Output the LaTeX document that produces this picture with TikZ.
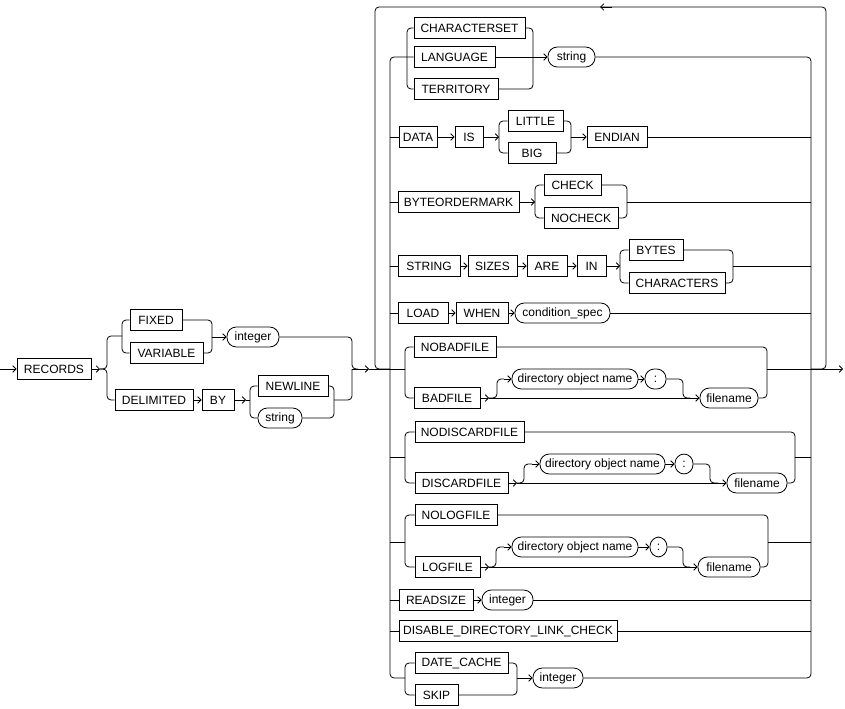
\documentclass[tikz,border=0pt]{standalone}
\usepackage{fontspec}
\setmainfont{Liberation Sans}
\usetikzlibrary{arrows.meta}
\newcommand\bx[5]{\node[kw,minimum width={(#3-#2)*0.75pt}] (#1) at ({(#2+#3)/2},#4) {#5};}
\newcommand\ov[5]{\node[vr,minimum width={(#3-#2)*0.75pt}] (#1) at ({(#2+#3)/2},#4) {#5};}
\begin{document}
\begin{tikzpicture}[x=0.75pt,y=-0.75pt,line width=0.6pt,
  kw/.style={draw,rectangle,inner sep=0pt,minimum height=15.5pt,font=\fontsize{9}{10}\selectfont},
  vr/.style={draw,rectangle,rounded corners=7pt,inner sep=0pt,minimum height=15pt,font=\fontsize{9}{10}\selectfont},
  arr/.style={-{Straight Barb[length=2.5pt,width=5pt]}},
  rc/.style={rounded corners=3pt}]
\useasboundingbox (0,0) rectangle (845,709);
% nodes
\bx{rec}{17}{91}{369}{RECORDS}
\bx{fixed}{130}{182}{320}{FIXED}
\bx{var}{130}{203}{353}{VARIABLE}
\ov{int0}{227}{279}{337}{integer}
\bx{del}{115}{193}{400}{DELIMITED}
\bx{by}{202}{234}{400}{BY}
\bx{nl}{258}{328}{386}{NEWLINE}
\ov{str0}{258}{302}{418}{string}
\bx{chs}{414}{525}{28}{CHARACTERSET}
\bx{lang}{414}{495}{57}{LANGUAGE}
\bx{terr}{414}{498}{89}{TERRITORY}
\ov{str1}{548}{595}{57}{string}
\bx{data}{399}{437}{137}{DATA}
\bx{is}{455}{483}{137}{IS}
\bx{little}{508}{563}{121}{LITTLE}
\bx{big}{508}{556}{153}{BIG}
\bx{endian}{587}{647}{137}{ENDIAN}
\bx{bom}{398}{519}{202}{BYTEORDERMARK}
\bx{check}{544}{601}{185}{CHECK}
\bx{nocheck}{544}{618}{218}{NOCHECK}
\bx{string}{398}{460}{266}{STRING}
\bx{sizes}{468}{517}{266}{SIZES}
\bx{are}{527}{567}{266}{ARE}
\bx{inkw}{577}{606}{266}{IN}
\bx{bytes}{629}{683}{250}{BYTES}
\bx{chars}{629}{725}{283}{CHARACTERS}
\bx{load}{398}{448}{313}{LOAD}
\bx{when}{456}{508}{313}{WHEN}
\ov{cond}{515}{610}{313}{condition\_spec}
\bx{nobad}{414}{496}{347}{NOBADFILE}
\bx{bad}{414}{480}{398}{BADFILE}
\ov{dir1}{512}{638}{379}{directory object name}
\ov{col1}{645}{666}{379}{:}
\ov{fn1}{700}{758}{398}{filename}
\bx{nodis}{415}{524}{432}{NODISCARDFILE}
\bx{dis}{415}{508}{483}{DISCARDFILE}
\ov{dir2}{540}{665}{464}{directory object name}
\ov{col2}{675}{693}{464}{:}
\ov{fn2}{727}{787}{483}{filename}
\bx{nolog}{415}{497}{515}{NOLOGFILE}
\bx{log}{415}{480}{567}{LOGFILE}
\ov{dir3}{512}{638}{547}{directory object name}
\ov{col3}{650}{667}{547}{:}
\ov{fn3}{698}{760}{567}{filename}
\bx{rs}{399}{473}{600}{READSIZE}
\ov{int2}{482}{533}{600}{integer}
\bx{ddlc}{399}{617}{631}{DISABLE\_DIRECTORY\_LINK\_CHECK}
\bx{dc}{415}{508}{663}{DATE\_CACHE}
\bx{skip}{415}{458}{695}{SKIP}
\ov{int3}{533}{583}{678}{integer}
% left part
\coordinate (start) at (0,369);
\coordinate (finish) at (843,369);
\draw[arr] (start) -- (rec.west);
\draw[arr] (rec.east) -- (100,369);
\draw[rc] (100,369) -- (107,369) -- (107,336) -- (122,336);
\draw[rc] (100,369) -- (107,369) -- (107,400) -- (del.west);
\draw[rc] (fixed.west) -- (122,320) -- (122,353) -- (var.west);
\draw[rc] (fixed.east) -- (212,320) -- (212,353) -- (var.east);
\draw[arr] (212,337) -- (int0.west);
\draw[rc] (int0.east) -- (352,337) -- (352,369) -- (358,369);
\draw[arr] (del.east) -- (by.west);
\draw[arr] (by.east) -- (246,400);
\draw (246,400) -- (250,400);
\draw[rc] (nl.west) -- (250,386) -- (250,418) -- (str0.west);
\draw[rc] (nl.east) -- (334,386) -- (334,418) -- (str0.east);
\draw[rc] (334,400) -- (352,400) -- (352,369);
\draw[arr] (352,369) -- (369,369);
\draw (369,369) -- (390,369);
% outer loop
\draw[rc] (390,369) -- (375,369) -- (375,7) -- (826,7) -- (826,369) -- (811,369);
\draw[arr] (612,7) -- (600,7);
\draw[arr] (811,369) -- (finish);
% inner rails
\draw[rc] (lang.west) -- (390,57) -- (390,678) -- (405,678);
\draw[rc] (str1.east) -- (811,57) -- (811,678) -- (int3.east);
% row 1
\draw[rc] (chs.west) -- (407,28) -- (407,89) -- (terr.west);
\draw[rc] (chs.east) -- (533,28) -- (533,89) -- (terr.east);
\draw[arr] (lang.east) -- (str1.west);
% DATA
\draw (390,137) -- (data.west);
\draw[arr] (data.east) -- (is.west);
\draw[arr] (is.east) -- (499,137);
\draw[rc] (little.west) -- (499,121) -- (499,153) -- (big.west);
\draw[rc] (little.east) -- (571,121) -- (571,153) -- (big.east);
\draw[arr] (571,137) -- (endian.west);
\draw (endian.east) -- (811,137);
% BOM
\draw (390,202) -- (bom.west);
\draw[arr] (bom.east) -- (535,202);
\draw[rc] (check.west) -- (535,185) -- (535,218) -- (nocheck.west);
\draw[rc] (check.east) -- (627,185) -- (627,218) -- (nocheck.east);
\draw (627,202) -- (811,202);
% STRING
\draw (390,266) -- (string.west);
\draw[arr] (string.east) -- (sizes.west);
\draw[arr] (sizes.east) -- (are.west);
\draw[arr] (are.east) -- (inkw.west);
\draw[arr] (inkw.east) -- (620,266);
\draw[rc] (bytes.west) -- (620,250) -- (620,283) -- (chars.west);
\draw[rc] (bytes.east) -- (733,250) -- (733,283) -- (chars.east);
\draw (733,266) -- (811,266);
% LOAD
\draw (390,313) -- (load.west);
\draw[arr] (load.east) -- (when.west);
\draw[arr] (when.east) -- (cond.west);
\draw (cond.east) -- (811,313);
% BADFILE
\draw (390,369) -- (405,369);
\draw[rc] (nobad.west) -- (405,347) -- (405,398) -- (bad.west);
\draw[rc] (nobad.east) -- (767,347) -- (767,398) -- (fn1.east);
\draw (767,369) -- (811,369);
\draw[arr] (bad.east) -- (489,398);
\draw[rc] (489,398) -- (497,398) -- (497,379) -- (504,379);
\draw[arr] (504,379) -- (dir1.west);
\draw[arr] (dir1.east) -- (col1.west);
\draw[rc] (col1.east) -- (683,379) -- (683,398) -- (690,398);
\draw[arr] (489,398) -- (fn1.west);
% DISCARDFILE
\draw (390,457) -- (405,457);
\draw[rc] (nodis.west) -- (405,432) -- (405,483) -- (dis.west);
\draw[rc] (nodis.east) -- (795,432) -- (795,483) -- (fn2.east);
\draw (795,457) -- (811,457);
\draw[arr] (dis.east) -- (517,483);
\draw[rc] (517,483) -- (524,483) -- (524,464) -- (532,464);
\draw[arr] (532,464) -- (dir2.west);
\draw[arr] (dir2.east) -- (col2.west);
\draw[rc] (col2.east) -- (710,464) -- (710,483) -- (718,483);
\draw[arr] (517,483) -- (fn2.west);
% LOGFILE
\draw (390,542) -- (405,542);
\draw[rc] (nolog.west) -- (405,515) -- (405,567) -- (log.west);
\draw[rc] (nolog.east) -- (768,515) -- (768,567) -- (fn3.east);
\draw (768,542) -- (811,542);
\draw[arr] (log.east) -- (489,567);
\draw[rc] (489,567) -- (496,567) -- (496,547) -- (504,547);
\draw[arr] (504,547) -- (dir3.west);
\draw[arr] (dir3.east) -- (col3.west);
\draw[rc] (col3.east) -- (683,547) -- (683,567) -- (690,567);
\draw[arr] (489,567) -- (fn3.west);
% READSIZE
\draw (390,600) -- (rs.west);
\draw[arr] (rs.east) -- (int2.west);
\draw (int2.east) -- (811,600);
% DISABLE
\draw (390,631) -- (ddlc.west);
\draw (ddlc.east) -- (811,631);
% DATE_CACHE
\draw[rc] (dc.west) -- (405,663) -- (405,695) -- (skip.west);
\draw[rc] (dc.east) -- (517,663) -- (517,695) -- (skip.east);
\draw[arr] (517,678) -- (int3.west);
\end{tikzpicture}
\end{document}
